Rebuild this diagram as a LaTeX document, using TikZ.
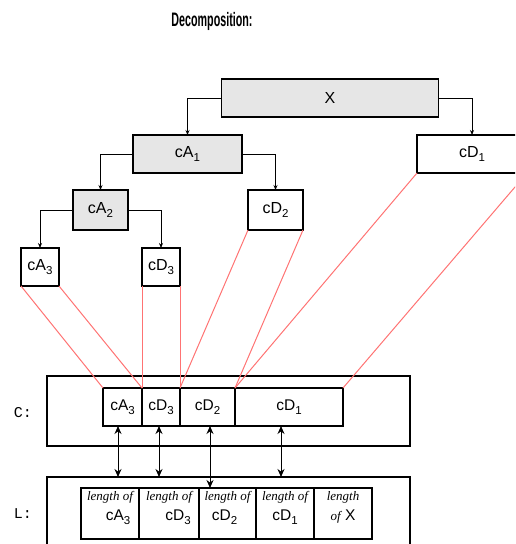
\documentclass[tikz,border=0pt]{standalone}
\usepackage{fontspec}
\usepackage{graphicx}
\setmainfont{Liberation Sans}
\newfontfamily\lenfont{Liberation Serif}[ItalicFont={Liberation Serif Italic}]
\newfontfamily\monofont{Liberation Mono}
\usetikzlibrary{arrows.meta}
\newcommand{\lsub}[1]{\raisebox{-0.5ex}{\fontsize{11.5}{12}\selectfont #1}}
\newcommand{\lenword}[1]{{\lenfont\itshape\fontsize{13}{14}\selectfont #1}}
\definecolor{boxgray}{HTML}{E6E6E6}
\definecolor{redline}{HTML}{FF7373}
\begin{document}
\begin{tikzpicture}[x=1pt,y=-1pt,
  box/.style={draw=black, line width=1.2pt, inner sep=0pt, outer sep=0pt, font=\fontsize{16}{17}\selectfont},
  graybox/.style={box, fill=boxgray},
  cell/.style={draw=black, line width=1.1pt, inner sep=0pt, outer sep=0pt, font=\fontsize{15.5}{16}\selectfont},
  lcell/.style={cell, align=center, font=\fontsize{15.5}{20}\selectfont, text depth=15pt},
  frame/.style={draw=black, line width=1.2pt, inner sep=0pt, outer sep=0pt},
  tree/.style={draw=black, line width=1pt, -{Stealth[length=5pt,width=4pt]}},
  dbl/.style={draw=black, line width=1pt, {Stealth[length=8pt,width=7pt]}-{Stealth[length=8pt,width=7pt]}},
  red/.style={draw=redline, line width=1pt},
  lbl/.style={font=\monofont\fontsize{15}{16}\selectfont}
]
\clip (0,0) rectangle (515,544);
% title
\node (title) at (212,21) {\scalebox{0.55}[1]{\fontsize{19.5}{20}\selectfont\bfseries Decomposition:}};
% tree
\node[graybox, minimum width=217pt, minimum height=38pt] (X) at (330,98) {X};
\node[graybox, minimum width=109pt, minimum height=38pt] (cA1) at (187.5,154) {cA\lsub1};
\node[box, minimum width=110pt, minimum height=38pt] (cD1) at (472,154) {cD\lsub1};
\node[graybox, minimum width=55pt, minimum height=40pt] (cA2) at (100.5,210) {cA\lsub2};
\node[box, minimum width=55pt, minimum height=40pt] (cD2) at (275.5,210) {cD\lsub2};
\node[box, minimum width=38pt, minimum height=38pt] (cA3) at (40,267) {cA\lsub3};
\node[box, minimum width=38pt, minimum height=38pt] (cD3) at (161,267) {cD\lsub3};
\draw[tree] (X.west) -| (cA1.north);
\draw[tree] (X.east) -| (cD1.north);
\draw[tree] (cA1.west) -| (cA2.north);
\draw[tree] (cA1.east) -| (cD2.north);
\draw[tree] (cA2.west) -| (cA3.north);
\draw[tree] (cA2.east) -| (cD3.north);
% C vector
\node[frame, minimum width=363pt, minimum height=70pt] (Cbox) at (228.5,411) {};
\node[lbl] (Clbl) at (23,413) {C:};
\node[cell, minimum width=39pt, minimum height=38pt] (cA3c) at (122.5,407) {cA\lsub3};
\node[cell, minimum width=38pt, minimum height=38pt] (cD3c) at (161,407) {cD\lsub3};
\node[cell, minimum width=55pt, minimum height=38pt] (cD2c) at (207.5,407) {cD\lsub2};
\node[cell, minimum width=108pt, minimum height=38pt] (cD1c) at (289,407) {cD\lsub1};
% L vector
\node[frame, minimum width=363pt, minimum height=83pt] (Lbox) at (228.5,518.5) {};
\node[lbl] (Llbl) at (23,514) {L:};
\node[lcell, minimum width=58pt, minimum height=51pt] (L1) at (110,513.5) {\lenword{length of}\\\hspace*{16pt}cA\lsub3};
\node[lcell, minimum width=60pt, minimum height=51pt] (L2) at (169,513.5) {\lenword{length of}\\\hspace*{18pt}cD\lsub3};
\node[lcell, minimum width=57pt, minimum height=51pt] (L3) at (227.5,513.5) {\lenword{length of}\\cD\lsub2\hspace*{6pt}};
\node[lcell, minimum width=58pt, minimum height=51pt] (L4) at (285,513.5) {\lenword{length of}\\cD\lsub1};
\node[lcell, minimum width=58pt, minimum height=51pt] (L5) at (343,513.5) {\lenword{length}\\\lenword{of} X};
% red lines
\draw[red] (cA3.south west) -- (cA3c.north west);
\draw[red] (cA3.south east) -- (cA3c.north east);
\draw[red] (cD3.south west) -- (cD3c.north west);
\draw[red] (cD3.south east) -- (cD3c.north east);
\draw[red] (cD2.south west) -- (cD2c.north west);
\draw[red] (cD2.south east) -- (cD2c.north east);
\draw[red] (cD1.south west) -- (cD1c.north west);
\draw[red] (cD1.south east) -- (cD1c.north east);
% double arrows
\draw[dbl] ([xshift=-4.5pt]cA3c.south) -- ([xshift=-4.5pt]cA3c.south |- Lbox.north);
\draw[dbl] ([xshift=-2pt]cD3c.south) -- ([xshift=-2pt]cD3c.south |- Lbox.north);
\draw[dbl] ([xshift=2.5pt]cD2c.south) -- ([xshift=2.5pt]cD2c.south |- L3.north);
\draw[dbl] ([xshift=-8pt]cD1c.south) -- ([xshift=-8pt]cD1c.south |- Lbox.north);
\end{tikzpicture}
\end{document}
